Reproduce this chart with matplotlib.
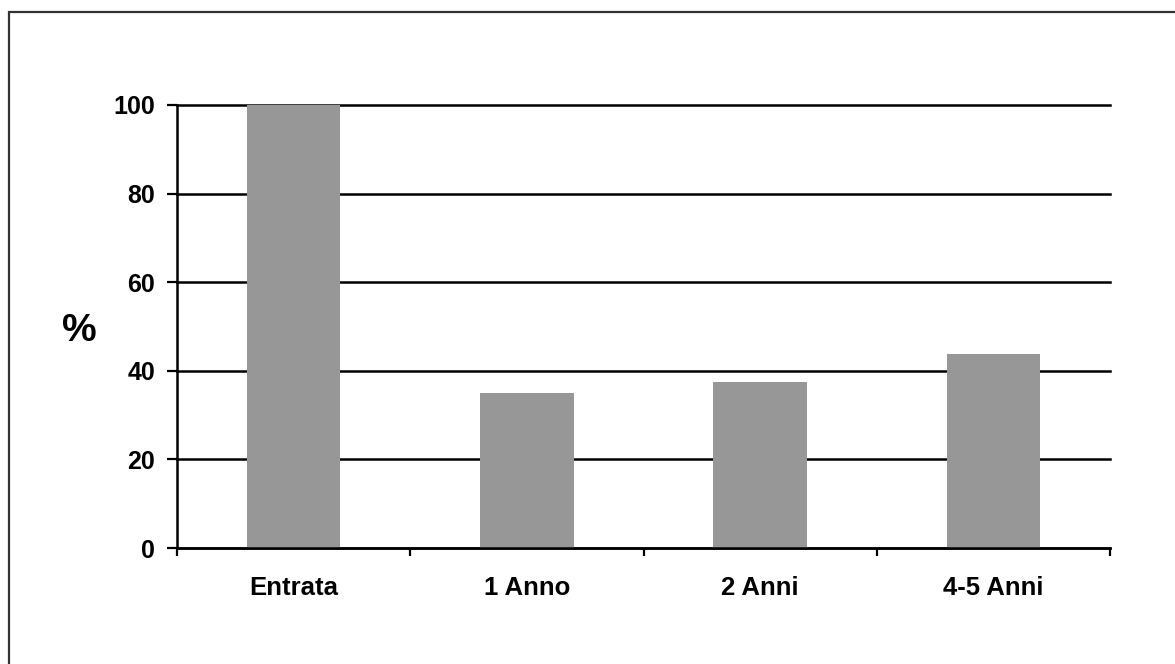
import matplotlib
matplotlib.use("Agg")
import matplotlib.pyplot as plt
from matplotlib.patches import Rectangle
import matplotlib.transforms as mtransforms
import numpy as np

categories = ["Entrata", "1 Anno", "2 Anni", "4-5 Anni"]
values = [100, 35, 37.4, 43.9]
yticks = [0, 20, 40, 60, 80, 100]
ylabel = "%"

plt.rcParams['font.family'] = ['Liberation Sans', 'DejaVu Sans']
plt.rcParams['font.weight'] = 'bold'

fig = plt.figure(figsize=(11.75, 6.64), dpi=100)
W, H = 1175, 664
ax = fig.add_axes([177 / W, 1 - 548 / H, (1110 - 177) / W, (548 - 105) / H])

x = np.arange(len(categories))
ax.bar(x, values, width=0.4, color="#979797", zorder=2)

ax.set_xlim(-0.5, len(categories) - 0.5)
ax.set_ylim(0, 100)
ax.set_yticks(yticks)
ax.set_yticklabels([str(v) for v in yticks], fontsize=18, fontweight='bold')
ax.set_xticks(x)
ax.set_xticklabels(categories, fontsize=18.5, fontweight='bold')
ax.set_xticks(np.arange(-0.5, len(categories)), minor=True)

ax.tick_params(axis='x', which='major', length=0, pad=20)
ax.tick_params(axis='x', which='minor', length=6, width=1.6, direction='out', color='black')
ax.tick_params(axis='y', which='major', length=7.2, width=1.6, direction='out', pad=8.5, color='black')

ax.yaxis.grid(True, color='black', linewidth=1.8)
ax.xaxis.grid(False)
ax.set_axisbelow(True)
for gl in ax.yaxis.get_gridlines():
    gl.set_clip_on(False)

for s in ['top', 'right']:
    ax.spines[s].set_visible(False)
for s in ['left', 'bottom']:
    ax.spines[s].set_linewidth(1.8)
    ax.spines[s].set_color('black')
    ax.spines[s].set_zorder(3)

trans = mtransforms.blended_transform_factory(fig.transFigure, ax.transAxes)
ax.text(79 / W, 0.49, ylabel, transform=trans, fontsize=28, fontweight='bold',
        ha='center', va='center')

# outer frame (left and top edges visible, extends beyond figure)
fig.patches.append(Rectangle((9 / W, -0.1), 1.2, (1 - 12 / H) + 0.1, transform=fig.transFigure,
                             fill=False, edgecolor='#333333', linewidth=1.6, figure=fig))

fig.savefig("out.png", dpi=100)
